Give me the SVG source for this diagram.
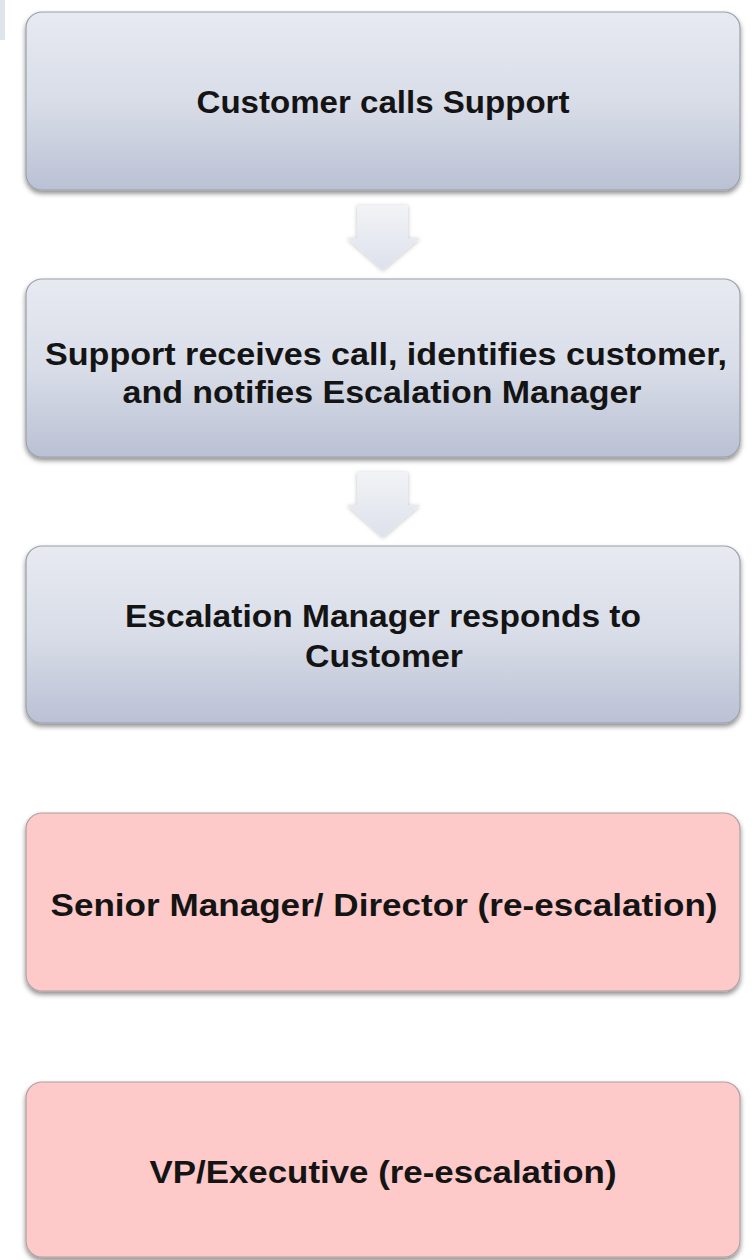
<svg xmlns="http://www.w3.org/2000/svg" width="753" height="1260" viewBox="0 0 753 1260">
<style>
.box{stroke:#9aa0aa;stroke-width:1.2;filter:url(#sh)}
.blue{fill:url(#gb)}
.pink{fill:#fdc9c9;stroke:#b0a0a0}
.t{font-family:"Liberation Sans",Arial,sans-serif;font-weight:bold;font-size:32px;fill:#141414;text-anchor:middle}
.arr{fill:url(#ga);filter:url(#sh2)}
</style>
<defs>
<linearGradient id="gb" x1="0" y1="0" x2="0" y2="1">
<stop offset="0" stop-color="#e7eaf1"/>
<stop offset="0.5" stop-color="#d9dde8"/>
<stop offset="1" stop-color="#bac1d4"/>
</linearGradient>
<linearGradient id="ga" x1="0" y1="0" x2="0" y2="1">
<stop offset="0" stop-color="#f2f3f6"/>
<stop offset="1" stop-color="#dde1ec"/>
</linearGradient>
<filter id="sh" x="-5%" y="-10%" width="110%" height="125%">
<feDropShadow dx="0" dy="3" stdDeviation="2.5" flood-color="#000" flood-opacity="0.45"/>
</filter>
<filter id="sh2" x="-30%" y="-30%" width="160%" height="160%">
<feDropShadow dx="0" dy="1" stdDeviation="2" flood-color="#000" flood-opacity="0.25"/>
</filter>
</defs>
<rect x="0" y="0" width="753" height="1260" fill="#ffffff"/>
<rect x="0" y="0" width="5" height="40" fill="#dfe4ea"/>
<g id="connectors">
<path class="arr" d="M357,205 H408 V238 H420 L383,270 L347,238 H357 Z"/>
<path class="arr" d="M357,472 H408 V505 H420 L383,537 L347,505 H357 Z"/>
</g>
<g id="n1">
<rect class="box blue" x="26" y="12" width="714" height="178" rx="16"/>
<text class="t" x="383" y="113" textLength="373" lengthAdjust="spacingAndGlyphs">Customer calls Support</text>
</g>
<g id="n2">
<rect class="box blue" x="26" y="279" width="714" height="178" rx="16"/>
<text class="t" x="386" y="365" textLength="682" lengthAdjust="spacingAndGlyphs">Support receives call, identifies customer,</text>
<text class="t" x="382" y="403" textLength="519" lengthAdjust="spacingAndGlyphs">and notifies Escalation Manager</text>
</g>
<g id="n3">
<rect class="box blue" x="26" y="546" width="714" height="177" rx="16"/>
<text class="t" x="383" y="627" textLength="516" lengthAdjust="spacingAndGlyphs">Escalation Manager responds to</text>
<text class="t" x="384" y="667" textLength="158" lengthAdjust="spacingAndGlyphs">Customer</text>
</g>
<g id="n4">
<rect class="box pink" x="26" y="813" width="714" height="178" rx="16"/>
<text class="t" x="384" y="916" textLength="667" lengthAdjust="spacingAndGlyphs">Senior Manager/ Director (re-escalation)</text>
</g>
<g id="n5">
<rect class="box pink" x="26" y="1082" width="714" height="175" rx="16"/>
<text class="t" x="383" y="1183" textLength="467" lengthAdjust="spacingAndGlyphs">VP/Executive (re-escalation)</text>
</g>
</svg>
